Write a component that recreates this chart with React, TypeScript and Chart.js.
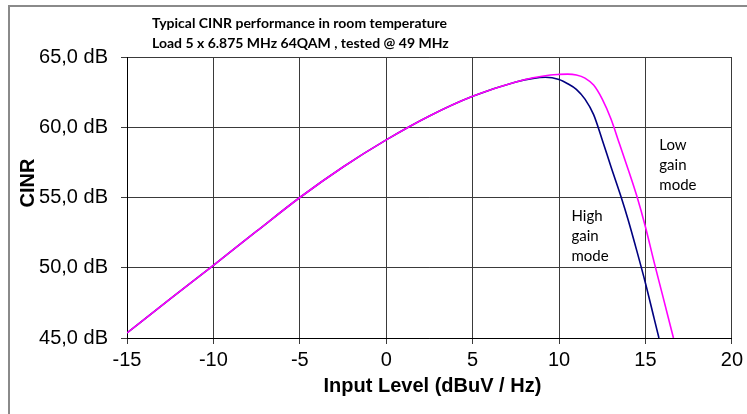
import React, { useEffect, useRef } from "react";
import { Chart, registerables } from "chart.js";

Chart.register(...registerables);

const titleLines = [
  "Typical CINR performance in room temperature",
  "Load 5 x 6.875 MHz 64QAM , tested @ 49 MHz",
];
const xAxisTitle = "Input Level (dBuV / Hz)";
const yAxisTitle = "CINR";

const lowGainX = [-15, -12.5, -10, -7.5, -5, -2.5, 0, 2.5, 5, 7.5, 8.5, 9.5, 10, 10.5, 11, 11.5, 12, 12.5, 13, 13.5, 14, 14.5, 15, 15.5, 16, 16.62];
const lowGainY = [45.36, 47.78, 50.17, 52.6, 55.0, 57.17, 59.1, 60.8, 62.2, 63.22, 63.52, 63.72, 63.76, 63.78, 63.72, 63.5, 63.0, 62.0, 60.6, 58.8, 57.0, 55.1, 52.9, 50.4, 48.0, 45.0];

const highGainX = [-15, -12.5, -10, -7.5, -5, -2.5, 0, 2.5, 5, 7.5, 8.5, 9.2, 10, 10.5, 11, 11.5, 12, 12.5, 13, 13.6, 14, 14.5, 15, 15.5, 15.78];
const highGainY = [45.36, 47.78, 50.17, 52.6, 55.0, 57.17, 59.1, 60.8, 62.2, 63.22, 63.48, 63.56, 63.4, 63.1, 62.7, 62.0, 60.9, 59.1, 57.2, 55.0, 53.4, 51.2, 48.9, 46.4, 45.0];

const lowGainLabel = ["Low", "gain", "mode"];
const lowGainLabelPos = { x: 15.8, y: 58.37 };
const highGainLabel = ["High", "gain", "mode"];
const highGainLabelPos = { x: 10.72, y: 53.33 };

const xTicks = { min: -15, max: 20, step: 5 };
const yTicks = { min: 45, max: 65, step: 5 };

const textPlugin = {
  id: "textPlugin",
  beforeDraw(chart: any) {
    const ctx = chart.ctx;
    ctx.save();
    ctx.strokeStyle = "#8a8a8a";
    ctx.lineWidth = 2;
    ctx.beginPath();
    ctx.moveTo(9, 414);
    ctx.lineTo(9, 6);
    ctx.lineTo(747, 6);
    ctx.stroke();
    ctx.restore();
  },
  afterDraw(chart: any) {
    const ctx = chart.ctx;
    const area = chart.chartArea;
    const xs = chart.scales.x;
    const ys = chart.scales.y;
    ctx.save();
    ctx.fillStyle = "#000";
    ctx.textBaseline = "alphabetic";
    ctx.textAlign = "left";
    ctx.font = "bold 14px Lato";
    titleLines.forEach((t, i) => ctx.fillText(t, 152, 28 + i * 20));

    ctx.font = "bold 20px 'Liberation Sans'";
    ctx.textAlign = "center";
    ctx.textBaseline = "middle";
    ctx.fillText(xAxisTitle, (area.left + area.right) / 2 + 3, 386);

    ctx.save();
    ctx.translate(28, 183);
    ctx.rotate(-Math.PI / 2);
    ctx.font = "bold 20px 'Liberation Sans'";
    ctx.fillText(yAxisTitle, 0, 0);
    ctx.restore();

    ctx.font = "15px Lato";
    ctx.textAlign = "left";
    ctx.textBaseline = "alphabetic";
    const lx = xs.getPixelForValue(lowGainLabelPos.x);
    const ly = ys.getPixelForValue(lowGainLabelPos.y);
    lowGainLabel.forEach((t, i) => ctx.fillText(t, lx, ly + i * 20));
    const hx = xs.getPixelForValue(highGainLabelPos.x);
    const hy = ys.getPixelForValue(highGainLabelPos.y);
    highGainLabel.forEach((t, i) => ctx.fillText(t, hx, hy + i * 20));
    ctx.restore();
  },
};

export default function App() {
  const ref = useRef<HTMLCanvasElement>(null);
  useEffect(() => {
    if (!ref.current) return;
    const chart = new Chart(ref.current, {
      type: "line",
      data: {
        datasets: [
          {
            label: "Low gain mode",
            data: lowGainX.map((x, i) => ({ x, y: lowGainY[i] })),
            borderColor: "#ff00ff",
            borderWidth: 1.6,
            pointRadius: 0,
            cubicInterpolationMode: "monotone",
            fill: false,
          },
          {
            label: "High gain mode",
            data: highGainX.map((x, i) => ({ x, y: highGainY[i] })),
            borderColor: "#000080",
            borderWidth: 1.6,
            pointRadius: 0,
            cubicInterpolationMode: "monotone",
            fill: false,
          },
        ],
      },
      options: {
        animation: false,
        responsive: false,
        devicePixelRatio: 1,
        layout: { padding: { top: 57, right: 13, left: 0, bottom: 0 } },
        plugins: { legend: { display: false }, tooltip: { enabled: false }, title: { display: false } },
        scales: {
          x: {
            type: "linear",
            min: xTicks.min,
            max: xTicks.max,
            afterFit: (s: any) => {
              s.height = 76;
            },
            ticks: {
              stepSize: xTicks.step,
              color: "#000",
              font: { family: "'Liberation Sans'", size: 20 },
              padding: 4,
              maxRotation: 0,
            },
            grid: { color: "#3a3a3a", lineWidth: 1, tickLength: 6 },
            border: { color: "#000", width: 1 },
          },
          y: {
            min: yTicks.min,
            max: yTicks.max,
            afterFit: (s: any) => {
              s.width = 127;
            },
            ticks: {
              stepSize: yTicks.step,
              color: "#000",
              font: { family: "'Liberation Sans'", size: 20 },
              padding: 13,
              callback: (v: any) => Number(v).toFixed(1).replace(".", ",") + " dB",
            },
            grid: { color: "#3a3a3a", lineWidth: 1, tickLength: 6 },
            border: { color: "#000", width: 1 },
          },
        },
      },
      plugins: [textPlugin],
    });
    return () => chart.destroy();
  }, []);
  return (
    <div style={{ position: "fixed", left: 0, top: 0, width: 747, height: 414, background: "#fff" }}>
      <canvas ref={ref} width={747} height={414} style={{ width: 747, height: 414 }} />
    </div>
  );
}
